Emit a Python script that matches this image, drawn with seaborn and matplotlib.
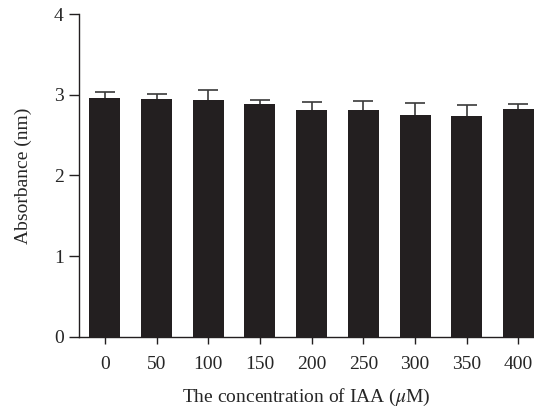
import matplotlib
matplotlib.use("Agg")
import matplotlib.pyplot as plt
import seaborn as sns
import numpy as np
import pandas as pd

concentrations = ["0", "50", "100", "150", "200", "250", "300", "350", "400"]
absorbance = [2.96, 2.95, 2.93, 2.885, 2.81, 2.81, 2.75, 2.74, 2.82]
error_upper = [0.08, 0.065, 0.125, 0.055, 0.095, 0.11, 0.15, 0.135, 0.07]

sns.set_theme(style="ticks")
plt.rcParams['font.family'] = ['Liberation Serif', 'DejaVu Serif']
plt.rcParams['mathtext.fontset'] = 'stix'

df = pd.DataFrame({"conc": concentrations, "abs": absorbance})

fig = plt.figure(figsize=(5.34, 4.07), dpi=100)
ax = fig.add_axes([0.148, 0.172, 0.852, 0.7936])

sns.barplot(data=df, x="conc", y="abs", order=concentrations, color="#231f20",
            saturation=1, width=0.6, errorbar=None, linewidth=0, ax=ax)
for p in ax.patches:
    p.set_zorder(2)

xpos = np.arange(len(concentrations))
eb = ax.errorbar(xpos, absorbance, yerr=[np.zeros(len(absorbance)), error_upper],
                 fmt="none", ecolor="#3a3a3a", elinewidth=1.2, capsize=7, capthick=1.2, zorder=1)
caplines = eb[1]
if len(caplines) >= 2:
    caplines[0].set_visible(False)

ax.set_xlim(-0.5, 8.3)
ax.set_ylim(0, 4)
ax.set_yticks([0, 1, 2, 3, 4])
ax.set_xlabel("The concentration of IAA ($\\mu$M)", fontsize=14, labelpad=10)
ax.set_ylabel("Absorbance (nm)", fontsize=14, labelpad=16)
ax.tick_params(axis='both', labelsize=14, color="#231f20", width=1)
ax.tick_params(axis='y', length=7, pad=4)
ax.tick_params(axis='x', length=5, pad=9)
for s in ["top", "right"]:
    ax.spines[s].set_visible(False)
for s in ["left", "bottom"]:
    ax.spines[s].set_color("#231f20")
    ax.spines[s].set_linewidth(1)

fig.savefig("out.png", dpi=100)
